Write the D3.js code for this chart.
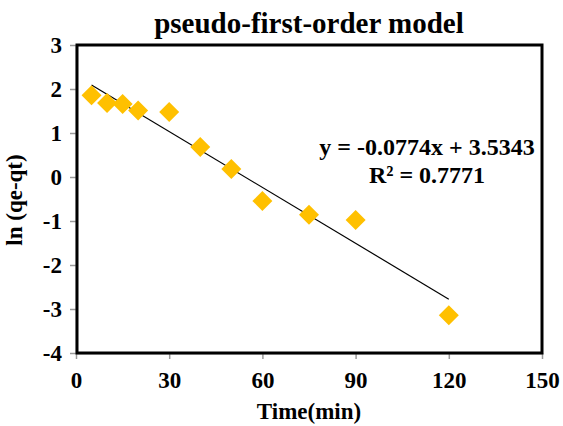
<!DOCTYPE html>
<html>
<head>
<meta charset="utf-8">
<script src="https://cdn.jsdelivr.net/npm/d3@7"></script>
<style>
  body { margin: 0; background: #fff; }
</style>
</head>
<body>
<svg id="chart"></svg>
<script>
// time (min) and ln(qe-qt)
const times = [5, 10, 15, 20, 30, 40, 50, 60, 75, 90, 120];
const lnValues = [1.86, 1.68, 1.66, 1.51, 1.48, 0.68, 0.18, -0.545, -0.86, -0.98, -3.14];
const xTicks = [0, 30, 60, 90, 120, 150];
const yTicks = [-4, -3, -2, -1, 0, 1, 2, 3];
const equationLines = ['y = -0.0774x + 3.5343', 'R² = 0.7771'];

const width = 563, height = 426;
const margin = { left: 76, right: 21, top: 45, bottom: 73 };
const serif = 'Liberation Serif';

const svg = d3.select('#chart')
    .attr('width', width)
    .attr('height', height)
    .attr('font-family', serif)
    .attr('font-weight', 'bold');

const x = d3.scaleLinear()
    .domain([0, 150])
    .range([margin.left, width - margin.right]);

const y = d3.scaleLinear()
    .domain([-4, 3])
    .range([height - margin.bottom, margin.top]);

// axes (grey ticks), hyphen minus like the original
const fmt = function(d) { return String(d); };
const xAxis = svg.append('g')
    .attr('transform', `translate(0, ${height - margin.bottom})`)
    .call(d3.axisBottom(x).tickValues(xTicks).tickFormat(fmt)
        .tickSize(6).tickSizeOuter(0).tickPadding(13));
const yAxis = svg.append('g')
    .attr('transform', `translate(${margin.left}, 0)`)
    .call(d3.axisLeft(y).tickValues(yTicks).tickFormat(fmt)
        .tickSize(6).tickSizeOuter(0).tickPadding(8));

[xAxis, yAxis].forEach(function(ax) {
    ax.attr('font-family', serif).attr('font-size', 23).attr('font-weight', 'bold');
    ax.selectAll('.domain').attr('stroke', '#888').attr('stroke-width', 1.5);
    ax.selectAll('line').attr('stroke', '#999').attr('stroke-width', 1.5);
    ax.selectAll('text').attr('fill', '#000');
});
xAxis.selectAll('text').attr('dy', '0.71em');

// plot frame
svg.append('rect')
    .attr('x', x(0) + 1)
    .attr('y', y(3))
    .attr('width', x(150) - x(0) - 1)
    .attr('height', y(-4) - y(3))
    .attr('fill', 'none')
    .attr('stroke', '#000')
    .attr('stroke-width', 3);

// linear fit from the data
const mx = d3.mean(times), my = d3.mean(lnValues);
let sxy = 0, sxx = 0;
times.forEach(function(t, i) {
    sxy += (t - mx) * (lnValues[i] - my);
    sxx += (t - mx) * (t - mx);
});
const slope = sxy / sxx, intercept = my - slope * mx;
const xs = d3.extent(times);

svg.append('line')
    .attr('x1', x(xs[0])).attr('y1', y(slope * xs[0] + intercept))
    .attr('x2', x(xs[1])).attr('y2', y(slope * xs[1] + intercept))
    .attr('stroke', '#000')
    .attr('stroke-width', 1.2);

// points
svg.selectAll('path.pt')
    .data(times)
    .enter()
    .append('path')
    .attr('class', 'pt')
    .attr('d', d3.symbol().type(d3.symbolSquare).size(200))
    .attr('transform', function(d, i) {
        return `translate(${x(d)}, ${y(lnValues[i])}) rotate(45)`;
    })
    .attr('fill', '#FFC000');

// title
svg.append('text')
    .attr('x', 309).attr('y', 33)
    .attr('text-anchor', 'middle')
    .attr('font-size', 29)
    .text('pseudo-first-order model');

// axis titles
svg.append('text')
    .attr('x', 309).attr('y', 419)
    .attr('text-anchor', 'middle')
    .attr('font-size', 23)
    .text('Time(min)');

svg.append('text')
    .attr('transform', 'translate(22, 200) rotate(-90)')
    .attr('text-anchor', 'middle')
    .attr('font-size', 23)
    .text('ln (qe-qt)');

// equation
svg.selectAll('text.eq')
    .data(equationLines)
    .enter()
    .append('text')
    .attr('class', 'eq')
    .attr('x', 427)
    .attr('y', function(d, i) { return 155 + i * 28; })
    .attr('text-anchor', 'middle')
    .attr('font-size', 24)
    .text(function(d) { return d; });
</script>
</body>
</html>
